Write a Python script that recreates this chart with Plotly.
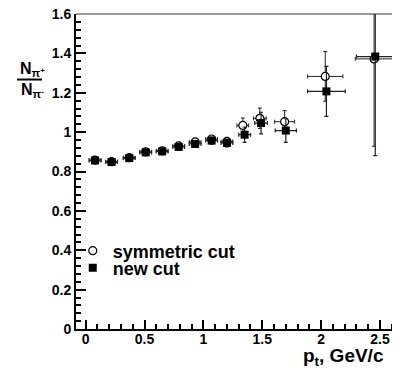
import plotly.graph_objects as go

# symmetric cut (open circles)
sym_x = [0.08, 0.22, 0.37, 0.51, 0.65, 0.79, 0.93, 1.07, 1.20, 1.335, 1.48, 1.69, 2.035, 2.45]
sym_y = [0.858, 0.850, 0.870, 0.900, 0.905, 0.930, 0.950, 0.965, 0.953, 1.034, 1.070, 1.053, 1.283, 1.372]
sym_ey = [0.012, 0.012, 0.012, 0.013, 0.013, 0.014, 0.016, 0.018, 0.020, 0.038, 0.052, 0.056, 0.126, 0.444]
sym_ex = [0.05, 0.05, 0.05, 0.05, 0.05, 0.05, 0.05, 0.05, 0.05, 0.05, 0.054, 0.085, 0.15, 0.16]

# new cut (filled squares)
new_x = [0.08, 0.22, 0.37, 0.51, 0.65, 0.79, 0.93, 1.07, 1.20, 1.35, 1.49, 1.70, 2.045, 2.46]
new_y = [0.856, 0.848, 0.868, 0.897, 0.902, 0.925, 0.940, 0.957, 0.945, 0.987, 1.046, 1.008, 1.207, 1.384]
new_ey = [0.012, 0.012, 0.012, 0.013, 0.013, 0.014, 0.016, 0.018, 0.020, 0.039, 0.055, 0.060, 0.127, 0.503]
new_ex = [0.05, 0.05, 0.05, 0.05, 0.05, 0.05, 0.05, 0.05, 0.05, 0.05, 0.054, 0.09, 0.16, 0.16]

x_ticks = [0, 0.5, 1, 1.5, 2, 2.5]
x_labels = ["0", "0.5", "1", "1.5", "2", "2.5"]
y_ticks = [0, 0.2, 0.4, 0.6, 0.8, 1, 1.2, 1.4, 1.6]
y_labels = ["0", "0.2", "0.4", "0.6", "0.8", "1", "1.2", "1.4", "1.6"]

FONT = "Liberation Sans"
ecol = "#222"

fig = go.Figure()
fig.add_trace(go.Scatter(
    x=sym_x, y=sym_y, mode="markers", name="<b>symmetric cut</b>", legend="legend",
    marker=dict(symbol="circle", size=8, color="white", line=dict(color="black", width=1.2)),
    error_y=dict(type="data", array=sym_ey, color=ecol, thickness=1, width=2),
    error_x=dict(type="data", array=sym_ex, color=ecol, thickness=1, width=2),
))
fig.add_trace(go.Scatter(
    x=new_x, y=new_y, mode="markers", name="<b>new cut</b>", legend="legend2",
    marker=dict(symbol="square", size=8, color="black", line=dict(color="black", width=0)),
    error_y=dict(type="data", array=new_ey, color=ecol, thickness=1.2, width=2),
    error_x=dict(type="data", array=new_ex, color=ecol, thickness=1.2, width=2),
))

leg_common = dict(xanchor="left", yanchor="middle", bgcolor="rgba(0,0,0,0)",
                  font=dict(size=18, family=FONT), itemwidth=30)

fig.update_layout(
    width=392, height=360,
    margin=dict(l=68, r=0, t=6, b=39, autoexpand=False),
    paper_bgcolor="white", plot_bgcolor="white",
    font=dict(family=FONT, size=14, color="black"),
    showlegend=True,
    legend=dict(x=-0.01, y=0.2476, **leg_common),
    legend2=dict(x=-0.01, y=0.1937, **leg_common),
    xaxis=dict(range=[-0.082, 2.67], tickvals=x_ticks, ticktext=["<b>%s</b>" % t for t in x_labels],
               ticks="inside", ticklen=9, tickwidth=2, automargin=False, ticklabeloverflow="allow",
               ticklabelstandoff=-4,
               tickcolor="black", showline=True, linewidth=2, linecolor="black",
               showgrid=False, zeroline=False,
               minor=dict(dtick=0.1, tick0=0, ticks="inside", ticklen=5, tickwidth=2, tickcolor="black", showgrid=False)),
    yaxis=dict(range=[0, 1.6], tickvals=y_ticks, ticktext=["<b>%s</b>" % t for t in y_labels],
               ticks="inside", ticklen=10, tickwidth=2, automargin=False, ticklabeloverflow="allow",
               tickcolor="black", showline=True, linewidth=2, linecolor="black",
               showgrid=False, zeroline=False,
               minor=dict(dtick=0.04, tick0=0, ticks="inside", ticklen=5, tickwidth=2, tickcolor="black", showgrid=False)),
)

fig.add_shape(type="line", xref="paper", yref="paper", x0=0, x1=1, y0=1, y1=1,
              line=dict(color="#333", width=1))
# fraction y-title
fig.add_annotation(text="<b>N<sub>π<sup>+</sup></sub></b>", xref="paper", yref="paper",
                   x=0, y=1, xanchor="center", yanchor="middle", xshift=-44, yshift=-55,
                   showarrow=False, font=dict(size=16))
fig.add_annotation(text="<b>N<sub>π<sup>-</sup></sub></b>", xref="paper", yref="paper",
                   x=0, y=1, xanchor="center", yanchor="middle", xshift=-44, yshift=-76,
                   showarrow=False, font=dict(size=16))
fig.add_shape(type="line", xref="paper", yref="paper", x0=-0.182, x1=-0.105, y0=0.792, y1=0.792,
              line=dict(color="black", width=2))
fig.add_annotation(text="<b>p<sub>t</sub>, GeV/c</b>", xref="paper", yref="paper",
                   x=0, y=0, xanchor="center", yanchor="middle", xshift=267, yshift=-28,
                   showarrow=False, font=dict(size=19))

fig.write_html("out.html")
